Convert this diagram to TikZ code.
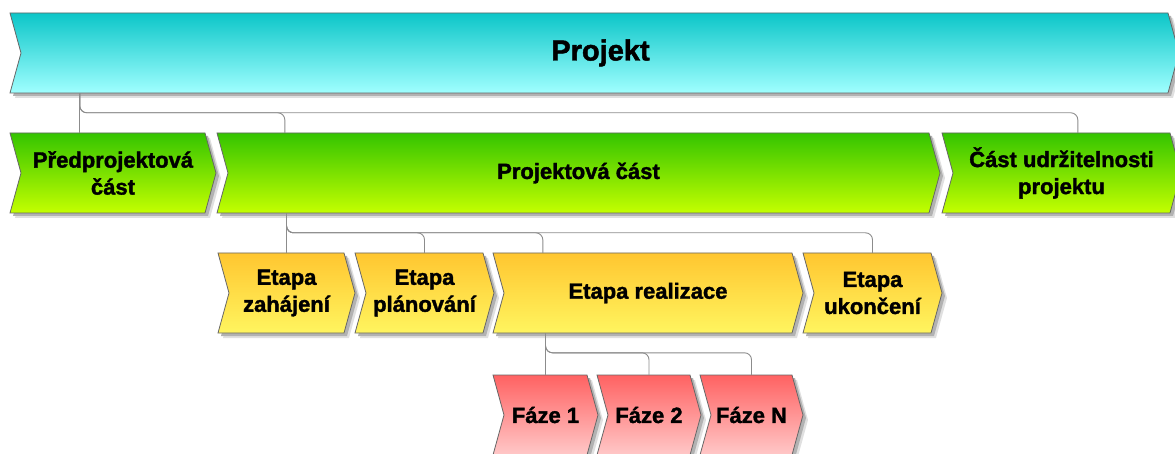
\documentclass[tikz,border=0pt]{standalone}
\usepackage{fontspec}
\setmainfont[FakeBold=1.6]{Liberation Sans}
\usetikzlibrary{calc}

\definecolor{projTop}{RGB}{12,198,200}
\definecolor{projBot}{RGB}{160,255,255}
\definecolor{partTop}{RGB}{52,196,0}
\definecolor{partBot}{RGB}{196,255,0}
\definecolor{etapTop}{RGB}{255,198,48}
\definecolor{etapBot}{RGB}{255,245,95}
\definecolor{fazeTop}{RGB}{255,98,98}
\definecolor{fazeBot}{RGB}{255,200,200}

\tikzset{
	chevtext/.style={font=\fontsize{22}{27}\selectfont\bfseries, align=center, inner sep=0pt, minimum height=80pt},
	chevline/.style={draw=black!60, line width=0.8pt},
	link/.style={draw=black!45, line width=0.9pt, rounded corners=7pt}
}

\newcommand{\chevron}[6]{%
	\fill[black!12] (#2+5,#4+5) -- (#3+5,#4+5) -- (#3+16,#4+45) -- (#3+5,#4+85) -- (#2+5,#4+85) -- (#2+16,#4+45) -- cycle;
	\fill[black!30] (#2+3,#4+3) -- (#3+3,#4+3) -- (#3+14,#4+43) -- (#3+3,#4+83) -- (#2+3,#4+83) -- (#2+14,#4+43) -- cycle;
	\shadedraw[chevline, top color=#5Top, bottom color=#5Bot] (#2,#4) -- (#3,#4) -- (#3+11,#4+40) -- (#3,#4+80) -- (#2,#4+80) -- (#2+11,#4+40) -- cycle;
	\node[chevtext, minimum width=#3-#2] (#1) at ({(#2+#3)/2+5.5},#4+40) {#6};
}

\begin{document}
\begin{tikzpicture}[x=1pt,y=-1pt]
		\useasboundingbox (0,0) rectangle (1175,454);
		\chevron{projekt}{10}{1168}{13}{proj}{\fontsize{29}{34}\selectfont\hspace*{12pt}Projekt}
		\chevron{pred}{10}{205}{133}{part}{Předprojektová\\část}
		\chevron{projcast}{217}{929}{133}{part}{Projektová část}
		\chevron{udrz}{942}{1170}{133}{part}{Část udržitelnosti\\projektu}
		\chevron{zahaj}{218}{344}{253}{etap}{Etapa\\zahájení}
		\chevron{plan}{355}{483}{253}{etap}{Etapa\\plánování}
		\chevron{real}{493}{792}{253}{etap}{Etapa realizace}
		\chevron{ukonc}{803}{931}{253}{etap}{Etapa\\ukončení}
		\chevron{faze1}{493}{587}{375}{faze}{Fáze 1}
		\chevron{faze2}{597}{690}{375}{faze}{Fáze 2}
		\chevron{fazen}{700}{792}{375}{faze}{Fáze N}
		\coordinate (predIn) at ([xshift=64.5]pred.north west);
		\coordinate (projcastIn) at ([xshift=62.5]projcast.north west);
		\coordinate (udrzIn) at ([xshift=130.5]udrz.north west);
		\coordinate (realIn) at ([xshift=44.5]real.north west);
		\draw[link] (projekt.south -| predIn) -- (predIn);
		\foreach \c in {projcastIn, udrzIn}
			\draw[link] (projekt.south -| predIn) |- ([yshift=20]\c) -- (\c);
		\draw[link] (projcast.south -| zahaj.north) -- (zahaj.north);
		\foreach \c in {plan.north, realIn, ukonc.north}
			\draw[link] (projcast.south -| zahaj.north) |- ([yshift=20]\c) -- (\c);
		\draw[link] (real.south -| faze1.north) -- (faze1.north);
		\foreach \c in {faze2.north, fazen.north}
			\draw[link] (real.south -| faze1.north) |- ([yshift=22]\c) -- (\c);
		\end{tikzpicture}
\end{document}
